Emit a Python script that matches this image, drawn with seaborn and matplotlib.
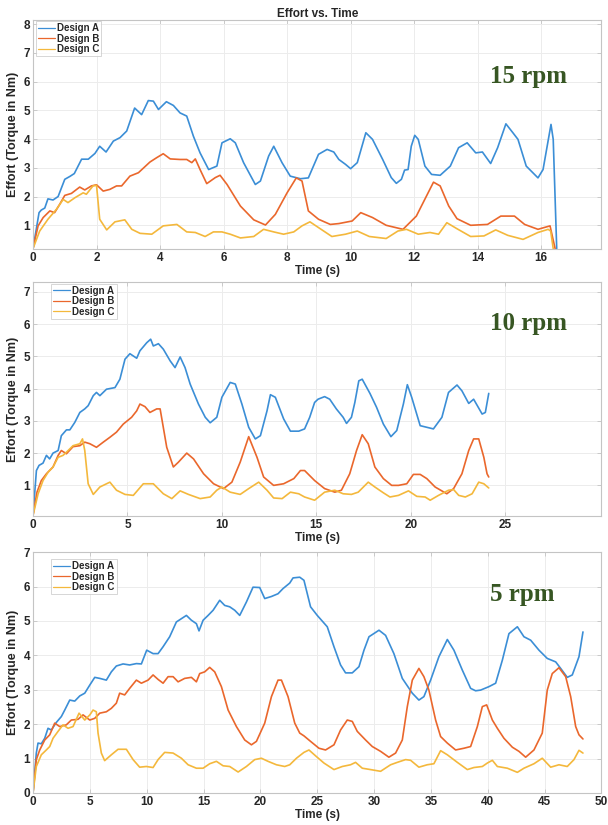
import matplotlib
matplotlib.use("Agg")
import matplotlib.pyplot as plt
import seaborn as sns
import pandas as pd

# ---- 15 rpm ----
t15_a = [0, 0.19, 0.26, 0.37, 0.47, 0.63, 0.79, 1.0, 1.16, 1.3, 1.53, 1.74, 1.95, 2.1, 2.3, 2.53, 2.74, 2.95,
         3.2, 3.42, 3.63, 3.79, 3.95, 4.2, 4.42, 4.63, 4.84, 5.05, 5.26, 5.53, 5.79, 5.95, 6.21, 6.37, 6.63,
         7.0, 7.16, 7.42, 7.58, 7.84, 8.1, 8.42, 8.67, 8.99, 9.26, 9.47, 9.63, 9.84, 10.0, 10.21, 10.48,
         10.69, 11.01, 11.28, 11.44, 11.6, 11.7, 11.81, 11.91, 12.02, 12.13, 12.34, 12.55, 12.82, 13.14,
         13.4, 13.67, 13.94, 14.15, 14.41, 14.63, 14.89, 15.11, 15.27, 15.53, 15.9, 16.06, 16.31, 16.38, 16.49]
e15_a = [0.19, 1.44, 1.53, 1.6, 1.92, 1.88, 2.0, 2.6, 2.7, 2.8, 3.3, 3.3, 3.5, 3.75, 3.55, 3.93, 4.05, 4.28,
         5.08, 4.85, 5.34, 5.32, 5.03, 5.3, 5.17, 4.91, 4.8, 4.1, 3.52, 2.94, 3.06, 3.87, 4.01, 3.87, 3.18,
         2.42, 2.54, 3.41, 3.75, 3.18, 2.71, 2.62, 2.65, 3.47, 3.64, 3.55, 3.29, 3.12, 2.97, 3.18, 4.22,
         3.99, 3.29, 2.66, 2.46, 2.6, 2.92, 2.94, 3.75, 4.13, 3.99, 3.06, 2.77, 2.74, 3.06,
         3.7, 3.87, 3.52, 3.55, 3.15, 3.7, 4.53, 4.22, 3.99, 3.06, 2.65, 2.94, 4.51, 3.99, 0.19]
t15_b = [0, 0.16, 0.32, 0.53, 0.68, 0.84, 1.0, 1.21, 1.47, 1.63, 1.84, 2.0, 2.21, 2.42, 2.63, 2.79, 3.05,
         3.32, 3.68, 3.89, 4.1, 4.32, 4.63, 4.84, 5.0, 5.11, 5.26, 5.47, 5.74, 5.89, 6.11, 6.53, 6.95, 7.32,
         7.63, 8.0, 8.29, 8.47, 8.67, 8.99, 9.36, 9.63, 10.05, 10.32, 10.69, 11.12, 11.65, 12.07, 12.39,
         12.61, 12.82, 13.09, 13.35, 13.78, 14.31, 14.73, 15.16, 15.48, 15.9, 16.28, 16.35, 16.44]
e15_b = [0.19, 0.98, 1.27, 1.5, 1.44, 1.73, 2.04, 2.11, 2.33, 2.23, 2.37, 2.41, 2.19, 2.25, 2.37, 2.37, 2.71,
         2.83, 3.2, 3.35, 3.49, 3.31, 3.29, 3.29, 3.18, 3.31, 2.94, 2.45, 2.66, 2.74, 2.42, 1.67, 1.19, 1.01,
         1.38, 2.13, 2.65, 2.54, 1.5, 1.21, 1.03, 1.06, 1.15, 1.44, 1.27, 1.0, 0.86, 1.32, 2.02,
         2.5, 2.37, 1.67, 1.23, 1.0, 1.03, 1.32, 1.32, 1.03, 0.86, 0.98, 0.63, 0.19]
t15_c = [0, 0.21, 0.47, 0.74, 0.95, 1.1, 1.32, 1.58, 1.68, 1.89, 2.0, 2.1, 2.32, 2.58, 2.89, 3.11, 3.37,
         3.74, 4.1, 4.53, 4.84, 5.11, 5.42, 5.68, 5.95, 6.21, 6.53, 6.95, 7.26, 7.58, 7.89, 8.21, 8.47,
         8.72, 8.99, 9.41, 9.84, 10.21, 10.59, 11.12, 11.49, 11.76, 12.13, 12.5, 12.77, 13.03, 13.35,
         13.78, 14.2, 14.57, 14.95, 15.43, 15.9, 16.22, 16.3, 16.38]
e15_c = [0.19, 0.8, 1.21, 1.56, 1.9, 1.79, 1.96, 2.13, 2.08, 2.37, 2.39, 1.21, 0.84, 1.12, 1.19, 0.86, 0.72,
         0.69, 0.98, 1.03, 0.77, 0.75, 0.61, 0.77, 0.77, 0.69, 0.56, 0.61, 0.86, 0.77, 0.69, 0.77, 0.98,
         1.12, 0.92, 0.61, 0.69, 0.8, 0.61, 0.54, 0.8, 0.86, 0.69, 0.75, 0.69, 1.09, 0.88,
         0.61, 0.63, 0.84, 0.65, 0.51, 0.75, 0.86, 0.8, 0.19]

# ---- 10 rpm ----
t10_a = [0, 0.18, 0.32, 0.53, 0.71, 0.88, 1.06, 1.33, 1.5, 1.77, 1.95, 2.21, 2.48, 2.74, 2.92, 3.19, 3.36,
         3.54, 3.89, 4.34, 4.6, 4.87, 5.13, 5.49, 5.66, 6.02, 6.23, 6.37, 6.64, 6.9, 7.26, 7.52, 7.79, 8.05,
         8.32, 8.76, 9.12, 9.38, 9.73, 10.0, 10.44, 10.71, 11.06, 11.42, 11.77, 12.04, 12.39, 12.57, 12.83,
         13.27, 13.63, 14.07, 14.38, 14.65, 14.91, 15.09, 15.44, 15.71, 16.06, 16.42, 16.6, 16.86, 17.04,
         17.25, 17.43, 17.84, 18.19, 18.55, 18.95, 19.26, 19.61, 19.82, 20.05, 20.5, 21.2, 21.65, 22.0,
         22.45, 22.71, 23.07, 23.33, 23.78, 23.95, 24.13]
e10_a = [0.07, 1.46, 1.62, 1.69, 1.93, 1.82, 2.0, 2.08, 2.54, 2.72, 2.72, 2.95, 3.26, 3.37, 3.47, 3.78, 3.88,
         3.78, 3.98, 4.03, 4.29, 4.91, 5.08, 4.94, 5.17, 5.42, 5.53, 5.32, 5.39, 5.22, 4.86, 4.65, 4.98, 4.65,
         4.14, 3.52, 3.11, 2.94, 3.11, 3.73, 4.19, 4.14, 3.52, 2.8, 2.44, 2.54, 3.31, 3.81, 3.73,
         3.06, 2.68, 2.68, 2.75, 3.11, 3.57, 3.67, 3.75, 3.67, 3.37, 3.11, 2.92, 3.11, 3.57,
         4.24, 4.29, 3.85, 3.42, 2.9, 2.51, 2.7, 3.52, 4.12, 3.73, 2.85, 2.75, 3.11, 3.88,
         4.11, 3.93, 3.54, 3.67, 3.21, 3.26, 3.85]
t10_b = [0, 0.21, 0.44, 0.71, 1.06, 1.33, 1.5, 1.77, 2.12, 2.48, 2.74, 3.01, 3.36, 3.72, 4.07, 4.42, 4.78,
         5.22, 5.49, 5.66, 5.93, 6.19, 6.55, 6.73, 7.08, 7.43, 7.7, 8.14, 8.5, 9.03, 9.56, 10.09, 10.53,
         10.97, 11.42, 11.86, 12.21, 12.74, 13.27, 13.81, 14.16, 14.38, 14.91, 15.44, 15.98, 16.33, 16.77,
         17.13, 17.43, 17.75, 18.1, 18.55, 18.99, 19.35, 19.79, 20.14, 20.5, 20.85, 21.29, 21.91, 22.27,
         22.71, 23.07, 23.33, 23.6, 23.87, 24.04, 24.13]
e10_b = [0.07, 0.79, 1.15, 1.36, 1.57, 1.93, 2.08, 1.98, 2.2, 2.23, 2.34, 2.29, 2.18, 2.34, 2.49, 2.65, 2.9,
         3.11, 3.31, 3.52, 3.44, 3.26, 3.37, 3.37, 2.18, 1.57, 1.72, 2.0, 1.82, 1.36, 1.05, 0.9, 1.1,
         1.72, 2.51, 1.87, 1.26, 1.0, 1.05, 1.21, 1.46, 1.46, 1.15, 0.9, 0.79, 0.85, 1.36,
         2.08, 2.57, 2.29, 1.57, 1.21, 1.0, 1.0, 1.05, 1.34, 1.34, 1.21, 0.95, 0.74, 0.9,
         1.36, 2.08, 2.44, 2.44, 1.87, 1.36, 1.26]
t10_c = [0, 0.27, 0.53, 0.8, 1.06, 1.33, 1.59, 1.86, 2.12, 2.48, 2.62, 2.74, 2.92, 3.19, 3.54, 4.07, 4.42,
         4.87, 5.31, 5.84, 6.37, 6.9, 7.35, 7.79, 8.23, 8.85, 9.38, 9.73, 10.0, 10.44, 10.97, 11.42, 11.95,
         12.39, 12.74, 13.19, 13.63, 14.07, 14.38, 14.91, 15.44, 15.98, 16.42, 16.86, 17.22, 17.75, 18.1,
         18.55, 18.9, 19.35, 19.88, 20.32, 20.76, 21.03, 21.47, 22.0, 22.27, 22.54, 22.89, 23.25, 23.6,
         23.87, 24.13]
e10_c = [0.07, 0.74, 1.15, 1.41, 1.57, 1.87, 1.93, 2.08, 2.23, 2.29, 2.44, 2.08, 1.05, 0.72, 0.95, 1.1, 0.85,
         0.72, 0.69, 1.05, 1.05, 0.74, 0.59, 0.83, 0.72, 0.59, 0.64, 0.85, 0.95, 0.79, 0.72, 0.9, 1.1,
         0.85, 0.61, 0.59, 0.79, 0.74, 0.64, 0.54, 0.79, 0.85, 0.74, 0.72, 0.79, 1.1, 0.95,
         0.77, 0.64, 0.69, 0.83, 0.66, 0.64, 0.54, 0.69, 0.85, 0.87, 0.69, 0.64, 0.74, 1.1,
         1.05, 0.92]

# ---- 5 rpm ----
t5_a = [0, 0.29, 0.44, 0.73, 1.03, 1.32, 1.61, 2.05, 2.49, 2.79, 3.23, 3.67, 4.11, 4.55, 5.0, 5.43, 5.87,
        6.45, 6.89, 7.33, 7.92, 8.5, 9.09, 9.53, 10.0, 10.56, 11.0, 11.44, 12.02, 12.61, 13.49, 13.93,
        14.37, 14.6, 14.96, 15.4, 15.84, 16.42, 16.86, 17.3, 17.74, 18.18, 18.77, 19.35, 19.94, 20.38,
        20.97, 21.55, 21.99, 22.58, 22.87, 23.46, 23.83, 24.41, 25.0, 25.88, 26.47, 27.05, 27.49, 28.08,
        28.67, 29.11, 29.55, 30.43, 31.01, 31.74, 32.48, 33.36, 33.94, 34.38, 34.97, 35.7, 36.44, 37.02,
        37.76, 38.49, 38.93, 39.37, 40.1, 40.69, 41.28, 41.86, 42.6, 43.18, 43.77, 44.5, 45.23, 45.97,
        46.41, 46.99, 47.43, 48.02, 48.37]
e5_a = [0, 1.16, 1.45, 1.43, 1.59, 1.88, 1.83, 2.05, 2.22, 2.41, 2.7, 2.67, 2.82, 2.9, 3.14, 3.36, 3.33,
        3.28, 3.52, 3.69, 3.75, 3.72, 3.76, 3.75, 4.15, 4.05, 4.05, 4.25, 4.54, 4.97, 5.16, 5.02,
        4.92, 4.71, 5.02, 5.16, 5.31, 5.6, 5.45, 5.41, 5.31, 5.16, 5.55, 5.98, 5.97, 5.65,
        5.71, 5.79, 5.94, 6.1, 6.25, 6.27, 6.18, 5.41, 5.16, 4.83, 4.25, 3.72, 3.49, 3.49,
        3.67, 4.15, 4.54, 4.73, 4.58, 4.05, 3.33, 2.9, 2.7, 2.8, 3.28, 3.96, 4.46, 4.15,
        3.57, 3.04, 2.97, 2.99, 3.09, 3.19, 3.86, 4.63, 4.83, 4.54, 4.44, 4.15, 3.91, 3.81,
        3.62, 3.36, 3.43, 3.96, 4.68]
t5_b = [0, 0.29, 0.59, 1.03, 1.47, 1.91, 2.35, 2.93, 3.37, 3.96, 4.4, 4.99, 5.43, 5.87, 6.45, 6.89, 7.33,
        7.62, 8.06, 8.5, 9.09, 9.53, 10.12, 10.56, 11.0, 11.44, 11.88, 12.32, 12.76, 13.34, 13.93, 14.37,
        14.66, 15.1, 15.54, 15.98, 16.57, 17.16, 17.89, 18.62, 19.21, 19.65, 20.38, 20.97, 21.55, 21.85,
        22.43, 23.02, 23.46, 23.83, 24.41, 25.15, 25.73, 26.47, 27.05, 27.64, 28.08, 28.52, 29.25, 29.84,
        30.57, 31.3, 31.89, 32.48, 32.92, 33.36, 33.94, 34.38, 34.82, 35.41, 35.85, 36.44, 37.17, 37.9,
        38.49, 39.08, 39.52, 39.9, 40.4, 40.84, 41.42, 42.16, 42.74, 43.33, 44.06, 44.79, 45.23, 45.67,
        46.26, 46.85, 47.29, 47.73, 48.02, 48.37]
e5_b = [0, 0.97, 1.25, 1.54, 1.69, 2.03, 1.93, 1.98, 2.12, 2.14, 2.27, 2.12, 2.17, 2.32, 2.36, 2.46, 2.61,
        2.9, 2.85, 3.04, 3.28, 3.19, 3.28, 3.43, 3.3, 3.19, 3.38, 3.38, 3.23, 3.33, 3.36, 3.23,
        3.47, 3.52, 3.65, 3.52, 3.09, 2.41, 1.93, 1.54, 1.4, 1.5, 2.03, 2.8, 3.28, 3.28,
        2.8, 2.03, 1.74, 1.66, 1.5, 1.3, 1.25, 1.4, 1.83, 2.12, 2.08, 1.79, 1.54, 1.35,
        1.21, 1.04, 1.16, 1.54, 2.51, 3.28, 3.62, 3.38, 2.99, 2.12, 1.64, 1.45, 1.25, 1.3,
        1.35, 1.93, 2.51, 2.56, 2.12, 1.88, 1.59, 1.33, 1.21, 1.04, 1.25, 1.74, 2.99, 3.47,
        3.64, 3.38, 2.8, 1.93, 1.69, 1.57]
t5_c = [0, 0.29, 0.73, 1.17, 1.47, 1.76, 2.2, 2.64, 3.08, 3.52, 4.05, 4.55, 5.0, 5.28, 5.57, 5.72, 6.01,
        6.3, 6.89, 7.48, 8.21, 8.8, 9.38, 9.97, 10.56, 11.0, 11.58, 12.32, 13.05, 13.64, 14.37, 14.96,
        15.54, 16.13, 16.72, 17.3, 18.04, 18.77, 19.5, 20.09, 20.67, 21.41, 22.14, 22.58, 23.17, 23.83,
        24.27, 24.85, 25.59, 26.47, 27.2, 27.93, 28.37, 28.96, 29.69, 30.57, 31.45, 32.04, 32.77, 33.21,
        33.94, 34.67, 35.26, 35.85, 36.44, 37.32, 38.2, 38.78, 39.52, 39.96, 40.4, 40.84, 41.72, 42.6,
        43.18, 44.06, 44.79, 45.53, 46.26, 46.99, 47.58, 48.02, 48.37]
e5_c = [0, 0.77, 1.11, 1.25, 1.35, 1.59, 1.79, 1.98, 1.88, 1.93, 2.32, 2.12, 2.27, 2.41, 2.36, 1.74, 1.16,
        0.94, 1.11, 1.27, 1.27, 0.97, 0.75, 0.77, 0.74, 0.97, 1.18, 1.16, 1.01, 0.82, 0.72, 0.72,
        0.85, 0.92, 0.79, 0.77, 0.61, 0.77, 0.97, 1.01, 0.92, 0.82, 0.77, 0.82, 1.01, 1.18,
        1.25, 1.08, 0.87, 0.68, 0.77, 0.82, 0.89, 0.72, 0.68, 0.63, 0.82, 0.89, 0.97, 0.95,
        0.75, 0.82, 0.85, 1.23, 1.11, 0.89, 0.68, 0.74, 0.77, 0.87, 0.95, 0.77, 0.72, 0.6,
        0.72, 0.85, 1.01, 0.75, 0.82, 0.77, 0.97, 1.24, 1.16]

designs = ["Design A", "Design B", "Design C"]
colors = ["#3b8ed6", "#ea672c", "#f4b83c"]
rpm_labels = ["15 rpm", "10 rpm", "5 rpm"]


def make_frame(series):
    parts = []
    for name, (t, e) in zip(designs, series):
        parts.append(pd.DataFrame({"Time": t, "Effort": e, "Design": name}))
    return pd.concat(parts, ignore_index=True)


panels = [
    make_frame([(t15_a, e15_a), (t15_b, e15_b), (t15_c, e15_c)]),
    make_frame([(t10_a, e10_a), (t10_b, e10_b), (t10_c, e10_c)]),
    make_frame([(t5_a, e5_a), (t5_b, e5_b), (t5_c, e5_c)]),
]

sns.set_theme(style="whitegrid")
plt.rcParams["font.family"] = ["Liberation Sans", "DejaVu Sans"]

fig = plt.figure(figsize=(6.08, 8.25), dpi=100)
rects = [
    [0.0543, 0.698, 0.935, 0.278],
    [0.0543, 0.3745, 0.935, 0.2836],
    [0.0543, 0.0388, 0.935, 0.292],
]
xlims = [(0, 17.9), (0, 30.1), (0, 50)]
xticks = [range(0, 17, 2), range(0, 26, 5), range(0, 51, 5)]
ylims = [(0.17, 8.15), (0.05, 7.3), (0, 7)]
yticks = [range(1, 9), range(1, 8), range(0, 8)]
leg_anchor = [(0.003, 0.997), (0.03, 0.997), (0.03, 0.975)]
rpm_pos = [(529, 77), (529, 323), (522, 595)]

for i, df in enumerate(panels):
    ax = fig.add_axes(rects[i])
    sns.lineplot(data=df, x="Time", y="Effort", hue="Design", palette=colors,
                 estimator=None, sort=False, linewidth=1.2, ax=ax)
    ax.set_xlim(*xlims[i])
    ax.set_ylim(*ylims[i])
    ax.set_xticks(list(xticks[i]))
    ax.set_yticks(list(yticks[i]))
    ax.grid(True, color="#ececec", linewidth=0.7)
    for sp in ax.spines.values():
        sp.set_color("#c4c4c4")
        sp.set_linewidth(0.8)
    ax.tick_params(axis="both", labelsize=8.5, colors="#c4c4c4", labelcolor="#262626",
                   direction="in", length=3, width=0.6, pad=2,
                   top=True, right=True, bottom=True, left=True)
    for lab in ax.get_xticklabels() + ax.get_yticklabels():
        lab.set_fontweight("bold")
    ax.set_xlabel("Time (s)", fontsize=8.5, fontweight="bold", color="#262626", labelpad=1)
    ax.set_ylabel("Effort (Torque in Nm)", fontsize=9, fontweight="bold", color="#262626", labelpad=3)

    leg = ax.legend(loc="upper left", bbox_to_anchor=leg_anchor[i], fontsize=7,
                    frameon=True, fancybox=False, borderpad=0.2, labelspacing=0.05,
                    handlelength=1.8, handletextpad=0.2, borderaxespad=0.1)
    leg.get_frame().set_edgecolor("#c4c4c4")
    leg.get_frame().set_linewidth(0.6)
    for line in leg.get_lines():
        line.set_linewidth(0.9)
    for txt in leg.get_texts():
        txt.set_fontweight("bold")
        txt.set_color("#262626")

    fx, fy = rpm_pos[i]
    fig.text(fx / 608, 1 - fy / 825, rpm_labels[i], ha="center", va="center",
             fontsize=18, fontweight="bold", color="#375623",
             family=["Liberation Serif", "DejaVu Serif"])

    if i == 0:
        ax.set_title("Effort vs. Time", fontsize=8.5, fontweight="bold", color="#262626", pad=2)

fig.savefig("out.png", dpi=100)
